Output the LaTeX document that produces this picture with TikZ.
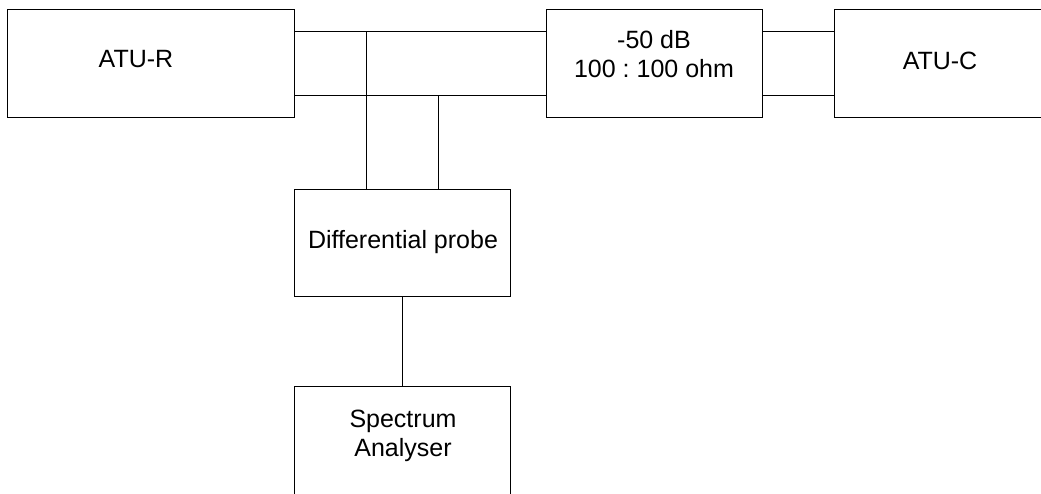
\documentclass[tikz,border=0pt]{standalone}
\usepackage{fontspec}
\setmainfont{Liberation Sans}
\usetikzlibrary{calc}
\frenchspacing
\begin{document}
\begin{tikzpicture}[x=1pt,y=-1pt,
  box/.style={draw=black, line width=0.8pt, rectangle, inner sep=0pt, outer sep=0pt, anchor=north west},
  lbl/.style={font=\fontsize{25}{29.5}\selectfont\frenchspacing, inner sep=0pt, align=center, text=black},
  wire/.style={draw=black, line width=0.8pt}]
\useasboundingbox (0,0) rectangle (1041,493);
\clip (0,0) rectangle (1041,493);
% boxes
\node[box, minimum width=287.7pt, minimum height=107.5pt] (atur) at (7,9.5) {};
\node[box, minimum width=215.7pt, minimum height=107.5pt] (att) at (546.3,9.5) {};
\node[box, minimum width=288pt, minimum height=107.5pt] (atuc) at (834,9.5) {};
\node[box, minimum width=215.3pt, minimum height=107pt] (probe) at (294.7,189) {};
\node[box, minimum width=215.3pt, minimum height=130pt] (spec) at (294.7,386.7) {};
% labels
\node[lbl] (laturn) at (136,59) {ATU-R};
\node[lbl] (latt) at (654,54.3) {-50 dB\\100 : 100 ohm};
\node[lbl] (latuc) at (940,61) {ATU-C};
\node[lbl] (lprobe) at (403,242) {Differential probe};
\node[lbl] (lspec) at (403,435.8) {Spectrum\\Analyser};
% connection points
\coordinate (rt) at ($(atur.north east)!0.2!(atur.south east)$);
\coordinate (rb) at ($(atur.north east)!0.8!(atur.south east)$);
\coordinate (at) at ($(att.north west)!0.2!(att.south west)$);
\coordinate (ab) at ($(att.north west)!0.8!(att.south west)$);
\coordinate (et) at ($(att.north east)!0.2!(att.south east)$);
\coordinate (eb) at ($(att.north east)!0.8!(att.south east)$);
\coordinate (ct) at ($(atuc.north west)!0.2!(atuc.south west)$);
\coordinate (cb) at ($(atuc.north west)!0.8!(atuc.south west)$);
\coordinate (p1) at ($(probe.north west)!1/3!(probe.north east)$);
\coordinate (p2) at ($(probe.north west)!2/3!(probe.north east)$);
% wires
\draw[wire] (rt) -- (at);
\draw[wire] (rb) -- (ab);
\draw[wire] (et) -- (ct);
\draw[wire] (eb) -- (cb);
\draw[wire] (p1) -- (p1 |- rt);
\draw[wire] (p2) -- (p2 |- rb);
\draw[wire] (probe.south) -- (spec.north);
\end{tikzpicture}
\end{document}
